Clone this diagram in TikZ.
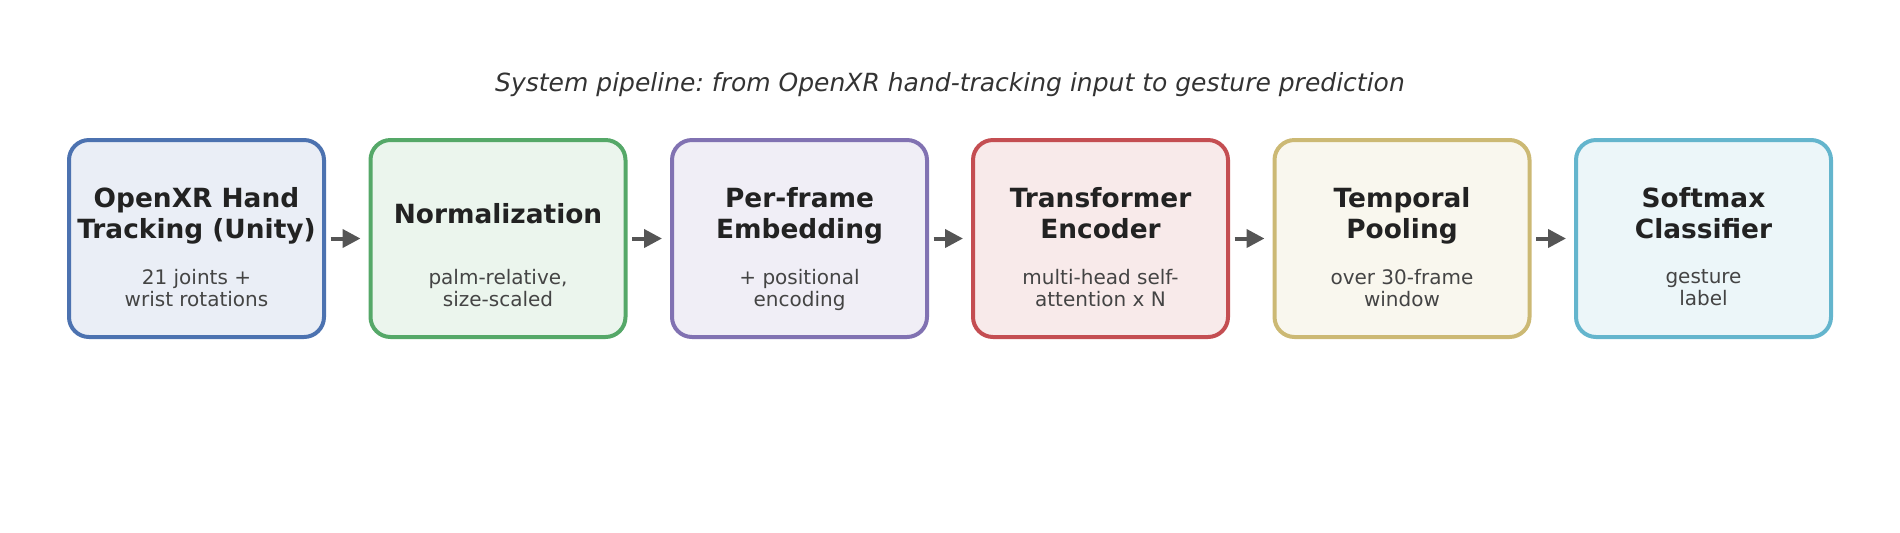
\documentclass[tikz,border=0pt]{standalone}
\usepackage{fontspec}
\setmainfont{DejaVu Sans}
\usetikzlibrary{arrows.meta,positioning}
\frenchspacing

\definecolor{stageblue}{HTML}{4C72B0}
\definecolor{stagegreen}{HTML}{55A868}
\definecolor{stagepurple}{HTML}{8172B2}
\definecolor{stagered}{HTML}{C44E52}
\definecolor{stagegold}{HTML}{CCB974}
\definecolor{stagecyan}{HTML}{64B5CD}
\definecolor{arrowgray}{HTML}{555555}
\definecolor{headgray}{HTML}{222222}
\definecolor{titlegray}{HTML}{333333}
\definecolor{subgray}{HTML}{444444}

\tikzset{
	stage/.style={draw=#1, fill=#1!12!white, line width=2pt, rounded corners=10pt,
		minimum width=127.5pt, minimum height=98.5pt},
	head/.style={font=\fontsize{13.2}{15.25}\selectfont\bfseries, text=headgray, align=center,
		execute at begin node=\strut, execute at end node=\strut, inner sep=0pt},
	sub/.style={font=\fontsize{10}{10.9}\selectfont, text=subgray, align=center,
		execute at begin node=\strut, execute at end node=\strut, inner sep=0pt},
	flow/.style={-{Triangle[length=9pt,width=9pt]}, line width=2pt, arrowgray,
		shorten <=2.25pt, shorten >=4pt}
}

\begin{document}
\begin{tikzpicture}[x=0.5pt, y=0.5pt]
	\useasboundingbox (0, 0) rectangle (1900, -532);

	\node[font=\fontsize{12.5}{15}\selectfont\itshape, text=titlegray] (title) at (950, -85)
		{System pipeline: from OpenXR hand-tracking input to gesture prediction};

	% pipeline stages
	\node[stage=stageblue] (input) at (196.5, -238.5) {};
	\node[stage=stagegreen] (norm) at (498, -238.5) {};
	\node[stage=stagepurple] (embed) at (799.5, -238.5) {};
	\node[stage=stagered] (encoder) at (1100.5, -238.5) {};
	\node[stage=stagegold] (pool) at (1402, -238.5) {};
	\node[stage=stagecyan] (classifier) at (1703.5, -238.5) {};

	\node[head] (input-h) at (196.5, -217.5) {OpenXR Hand\\Tracking (Unity)};
	\node[sub] (input-s) at (196.5, -291) {21 joints +\\wrist rotations};

	\node[head] (norm-h) at (498, -217.5) {Normalization};
	\node[sub] (norm-s) at (498, -291) {palm-relative,\\size-scaled};

	\node[head] (embed-h) at (799.5, -217.5) {Per-frame\\Embedding};
	\node[sub] (embed-s) at (799.5, -291) {+ positional\\encoding};

	\node[head] (encoder-h) at (1100.5, -217.5) {Transformer\\Encoder};
	\node[sub] (encoder-s) at (1100.5, -291) {multi-head self-\\attention x N};

	\node[head] (pool-h) at (1402, -217.5) {Temporal\\Pooling};
	\node[sub] (pool-s) at (1402, -291) {over 30-frame\\window};

	\node[head] (classifier-h) at (1703.5, -217.5) {Softmax\\Classifier};
	\node[sub] (classifier-s) at (1703.5, -291) {gesture\\label};

	% connectors
	\draw[flow] (input) -- (norm);
	\draw[flow] (norm) -- (embed);
	\draw[flow] (embed) -- (encoder);
	\draw[flow] (encoder) -- (pool);
	\draw[flow] (pool) -- (classifier);
\end{tikzpicture}
\end{document}
